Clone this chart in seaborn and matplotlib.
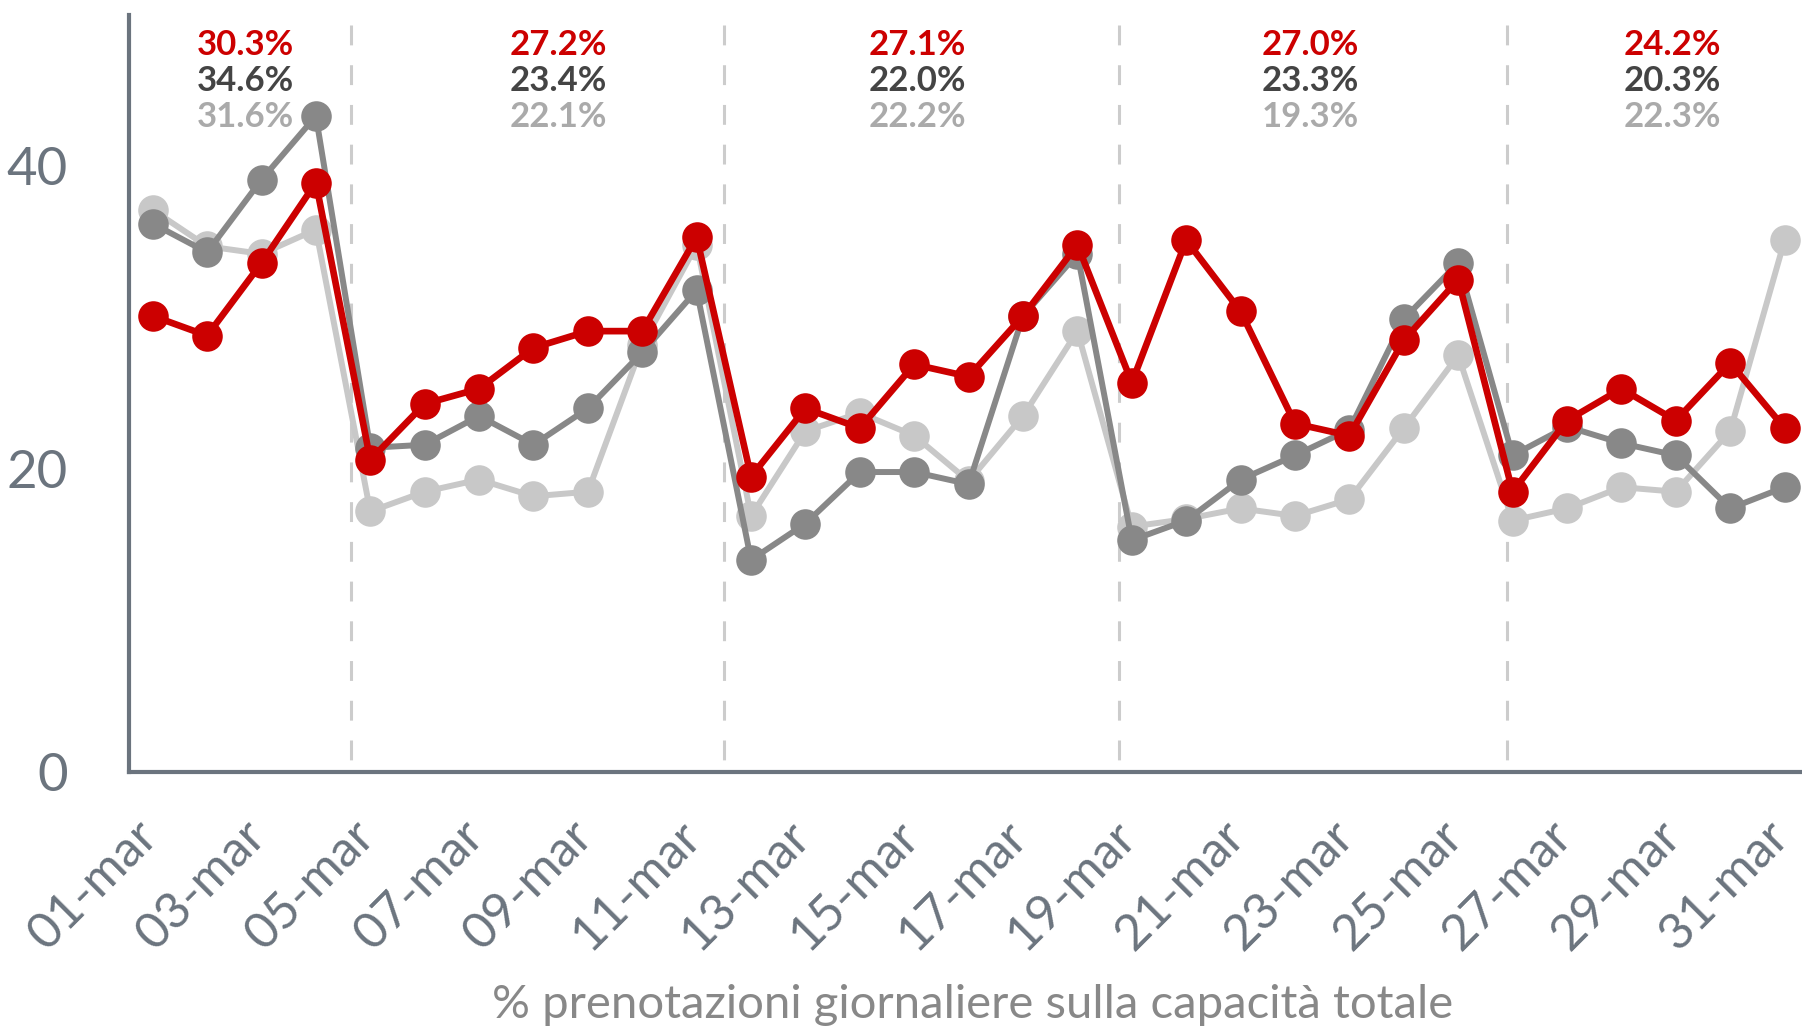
import numpy as np
import pandas as pd
import matplotlib
matplotlib.use('Agg')
import matplotlib.pyplot as plt
import matplotlib.transforms as mtransforms
import seaborn as sns

# Data (01-mar .. 31-mar)
days = list(range(31))
day_labels = [f"{d + 1:02d}-mar" for d in days]

red_vals = [30.1, 28.8, 33.6, 38.9, 20.6, 24.3, 25.3, 28.0, 29.1, 29.1, 35.3,
            19.5, 24.0, 22.7, 26.9, 26.1, 30.1, 34.8, 25.7, 35.1, 30.4, 23.0,
            22.2, 28.5, 32.5, 18.5, 23.2, 25.3, 23.2, 27.0, 22.7]
dark_vals = [36.2, 34.3, 39.1, 43.3, 21.4, 21.6, 23.5, 21.6, 24.0, 27.7, 31.8,
             14.0, 16.4, 19.8, 19.8, 19.0, 30.1, 34.2, 15.3, 16.6, 19.3, 20.9,
             22.6, 29.9, 33.6, 20.9, 22.8, 21.7, 20.9, 17.4, 18.8]
light_vals = [37.1, 34.7, 34.2, 35.8, 17.2, 18.5, 19.3, 18.2, 18.5, 28.2, 34.8,
              16.9, 22.5, 23.7, 22.2, 19.2, 23.5, 29.1, 16.2, 16.7, 17.4, 16.9,
              18.0, 22.7, 27.5, 16.6, 17.4, 18.8, 18.5, 22.5, 35.1]

# weekly averages shown at the top of each block
block_x = [1.71, 7.45, 14.05, 21.28, 27.94]
block_red = ['30.3%', '27.2%', '27.1%', '27.0%', '24.2%']
block_dark = ['34.6%', '23.4%', '22.0%', '23.3%', '20.3%']
block_light = ['31.6%', '22.1%', '22.2%', '19.3%', '22.3%']
separators = [3.65, 10.5, 17.77, 24.9]

df = pd.DataFrame({'day': days, 'red': red_vals, 'dark': dark_vals, 'light': light_vals})

sns.set_style('white')
plt.rcParams['font.family'] = ['Lato', 'DejaVu Sans']

axis_col = '#6b747e'
RED = '#cc0000'
DARK = '#888888'
LIGHT = '#c8c8c8'

fig = plt.figure(figsize=(18.02, 10.36), dpi=100)
ax = fig.add_axes([129 / 1802, 1 - 772 / 1036, (1802 - 129) / 1802, 757.5 / 1036])

# dashed week separators
for s in separators:
    ax.plot([s, s], [49.3, 0.6], color='#cccccc', lw=2.2, ls=(0, (6.5, 6.5)), zorder=1)

line_kw = dict(marker='o', markersize=22, markeredgewidth=0, legend=False)
sns.lineplot(data=df, x='day', y='light', color=LIGHT, lw=4.3, ax=ax, zorder=2, **line_kw)
sns.lineplot(data=df, x='day', y='dark', color=DARK, lw=4.3, ax=ax, zorder=3, **line_kw)
sns.lineplot(data=df, x='day', y='red', color=RED, lw=4.8, ax=ax, zorder=4, **line_kw)

for x, r, d, l in zip(block_x, block_red, block_dark, block_light):
    ax.text(x, 47.33, r, color=RED, fontsize=25, fontweight='bold', ha='center', va='baseline')
    ax.text(x, 44.97, d, color='#444444', fontsize=25, fontweight='bold', ha='center', va='baseline')
    ax.text(x, 42.6, l, color='#aaaaaa', fontsize=25, fontweight='bold', ha='center', va='baseline')

ax.set_xlim(-0.436, 30.32)
ax.set_ylim(0, 50)
ax.set_yticks([0, 20, 40])
ax.set_xticks(days[::2])
ax.set_xticklabels(day_labels[::2], rotation=45, ha='right', va='top', rotation_mode='anchor')
ax.tick_params(axis='y', length=0, pad=44, labelsize=38, labelcolor=axis_col)
ax.tick_params(axis='x', length=0, pad=29, labelsize=36, labelcolor=axis_col)

# nudge the rotated date labels left so they sit under their ticks
shift = mtransforms.ScaledTranslation(-0.19, 0, fig.dpi_scale_trans)
for lab in ax.get_xticklabels():
    lab.set_transform(lab.get_transform() + shift)

ax.set_xlabel('')
ax.set_ylabel('')
fig.text(973 / 1802, 1 - 1018 / 1036, '% prenotazioni giornaliere sulla capacità totale',
         ha='center', va='baseline', fontsize=34, color='#888888')

sns.despine(ax=ax)
for side in ['left', 'bottom']:
    ax.spines[side].set_color(axis_col)
    ax.spines[side].set_linewidth(3)

fig.savefig('out.png', dpi=100)
